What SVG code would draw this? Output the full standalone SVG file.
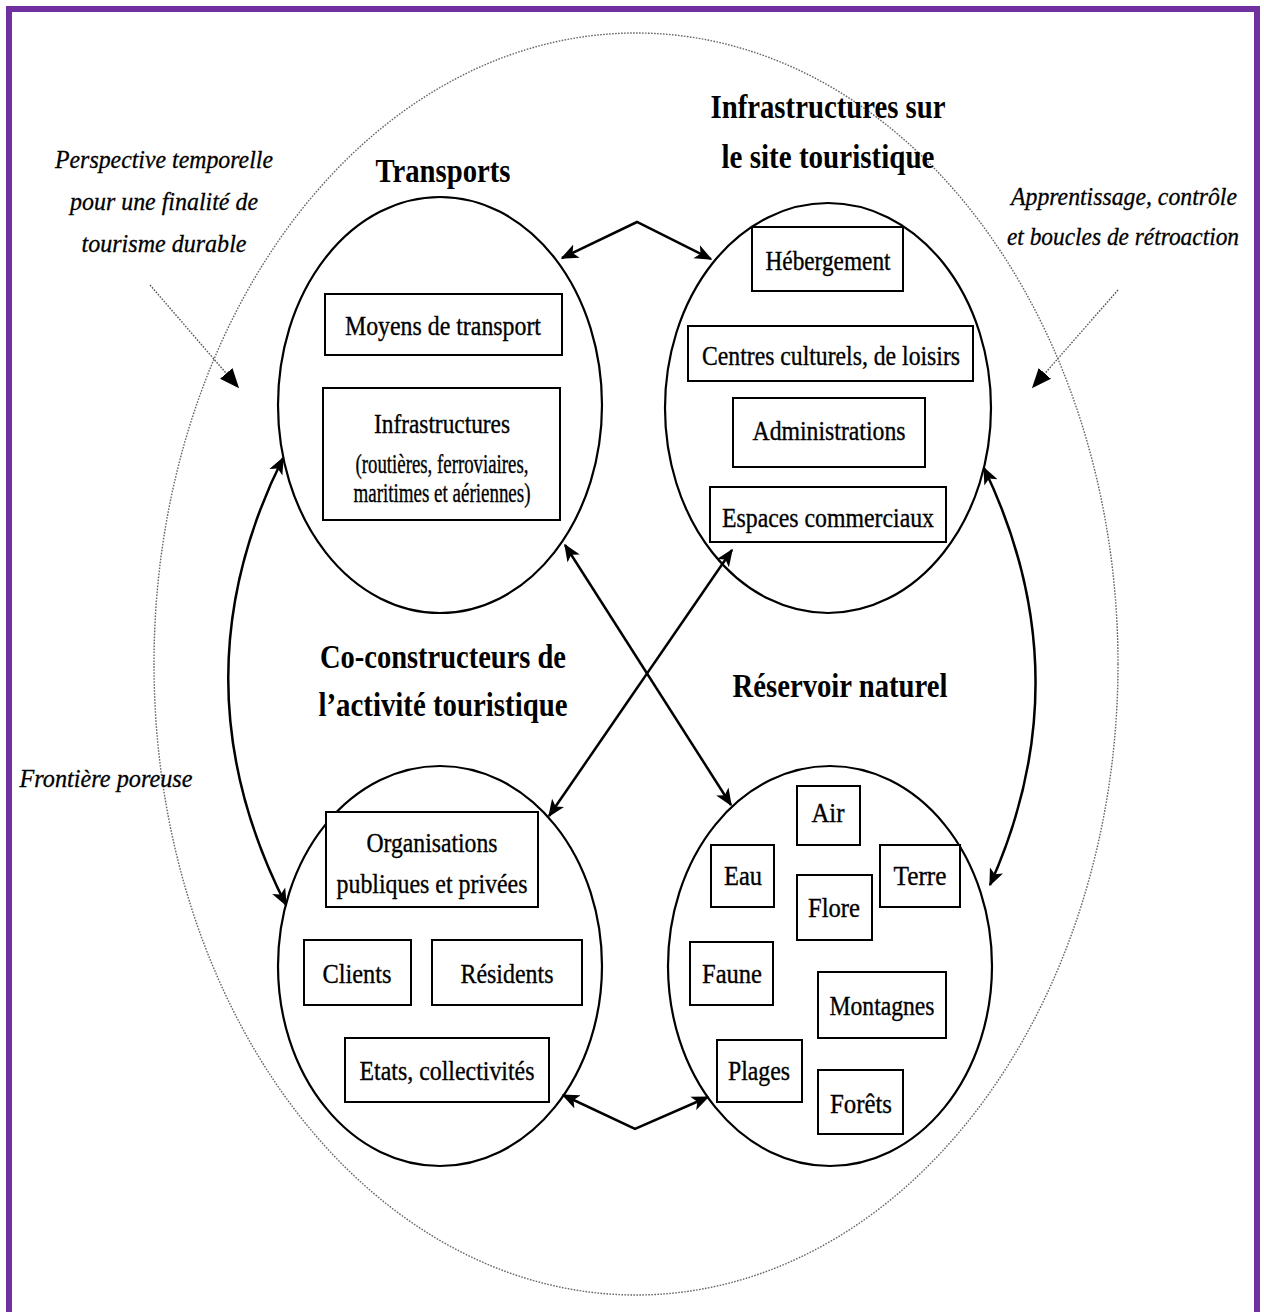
<svg xmlns="http://www.w3.org/2000/svg" width="1264" height="1312" viewBox="0 0 1264 1312">
  <defs>
    <marker id="head" viewBox="0 0 12 10" refX="11" refY="5" markerWidth="7" markerHeight="6" markerUnits="strokeWidth" orient="auto-start-reverse">
      <path d="M0,0 L12,5 L0,10 L3,5 Z" fill="#000"/>
    </marker>
    <marker id="headThin" viewBox="0 0 12 10" refX="11" refY="5" markerWidth="14" markerHeight="12" markerUnits="strokeWidth" orient="auto">
      <path d="M0,0 L12,5 L0,10 Z" fill="#000"/>
    </marker>
    <style>
      .frame { fill: none; stroke: #7030A0; stroke-width: 6; }
      .porous { fill: none; stroke: #666; stroke-width: 1.4; stroke-dasharray: 1.6 1.4; }
      .pole { fill: #fff; stroke: #000; stroke-width: 2.2; }
      .box { fill: #fff; stroke: #000; stroke-width: 2; }
      .link { fill: none; stroke: #000; stroke-width: 2.5; marker-start: url(#head); marker-end: url(#head); }
      .hint { fill: none; stroke: #555; stroke-width: 1.4; stroke-dasharray: 1.6 1.4; marker-end: url(#headThin); }
      text { font-family: "Liberation Serif", "Times New Roman", serif; fill: #000; text-anchor: middle; }
      .item { font-size: 27px; stroke: #000; stroke-width: 0.35; }
      .title { font-size: 33px; font-weight: bold; }
      .note { font-size: 26px; font-style: italic; stroke: #000; stroke-width: 0.3; }
    </style>
  </defs>

  <rect width="1264" height="1312" fill="#fff"/>
  <rect class="frame" x="9" y="9" width="1248" height="1330"/>

  <!-- porous outer boundary -->
  <ellipse id="boundary" class="porous" cx="636" cy="664" rx="482" ry="631"/>

  <!-- side notes -->
  <g id="note-left">
    <text class="note" x="164" y="168" textLength="218" lengthAdjust="spacingAndGlyphs">Perspective temporelle</text>
    <text class="note" x="164" y="210" textLength="188" lengthAdjust="spacingAndGlyphs">pour une finalité de</text>
    <text class="note" x="164" y="252" textLength="165" lengthAdjust="spacingAndGlyphs">tourisme durable</text>
  </g>
  <g id="note-right">
    <text class="note" x="1124" y="205" font-size="25" textLength="226" lengthAdjust="spacingAndGlyphs">Apprentissage, contrôle</text>
    <text class="note" x="1123" y="245" font-size="25" textLength="232" lengthAdjust="spacingAndGlyphs">et boucles de rétroaction</text>
  </g>
  <g id="note-boundary">
    <text class="note" x="106" y="787" textLength="173" lengthAdjust="spacingAndGlyphs">Frontière poreuse</text>
  </g>

  <!-- Transports -->
  <g id="transports">
    <text class="title" x="443" y="182" textLength="135" lengthAdjust="spacingAndGlyphs">Transports</text>
    <ellipse class="pole" cx="440" cy="405" rx="162" ry="208"/>
    <rect class="box" x="325" y="294" width="237" height="61"/>
    <text class="item" x="443" y="335" textLength="196" lengthAdjust="spacingAndGlyphs">Moyens de transport</text>
    <rect class="box" x="323" y="388" width="237" height="132"/>
    <text class="item" x="442" y="433" textLength="136" lengthAdjust="spacingAndGlyphs">Infrastructures</text>
    <text class="item" x="442" y="473" font-size="23" textLength="173" lengthAdjust="spacingAndGlyphs">(routières, ferroviaires,</text>
    <text class="item" x="442" y="502" font-size="23" textLength="177" lengthAdjust="spacingAndGlyphs">maritimes et aériennes)</text>
  </g>

  <!-- Infrastructures sur le site touristique -->
  <g id="infrastructures-site">
    <text class="title" x="828" y="118" textLength="235" lengthAdjust="spacingAndGlyphs">Infrastructures sur</text>
    <text class="title" x="828" y="168" textLength="213" lengthAdjust="spacingAndGlyphs">le site touristique</text>
    <ellipse class="pole" cx="828" cy="408" rx="163" ry="205"/>
    <rect class="box" x="752" y="227" width="151" height="64"/>
    <text class="item" x="828" y="270" textLength="125" lengthAdjust="spacingAndGlyphs">Hébergement</text>
    <rect class="box" x="688" y="326" width="285" height="55"/>
    <text class="item" x="831" y="365" textLength="258" lengthAdjust="spacingAndGlyphs">Centres culturels, de loisirs</text>
    <rect class="box" x="733" y="398" width="192" height="69"/>
    <text class="item" x="829" y="440" textLength="153" lengthAdjust="spacingAndGlyphs">Administrations</text>
    <rect class="box" x="710" y="487" width="236" height="55"/>
    <text class="item" x="828" y="527" textLength="212" lengthAdjust="spacingAndGlyphs">Espaces commerciaux</text>
  </g>

  <!-- Co-constructeurs de l'activité touristique -->
  <g id="co-constructeurs">
    <text class="title" x="443" y="668" textLength="246" lengthAdjust="spacingAndGlyphs">Co-constructeurs de</text>
    <text class="title" x="443" y="716" textLength="249" lengthAdjust="spacingAndGlyphs">l’activité touristique</text>
    <ellipse class="pole" cx="440" cy="966" rx="162" ry="200"/>
    <rect class="box" x="326" y="812" width="212" height="95"/>
    <text class="item" x="432" y="852" textLength="131" lengthAdjust="spacingAndGlyphs">Organisations</text>
    <text class="item" x="432" y="893" textLength="191" lengthAdjust="spacingAndGlyphs">publiques et privées</text>
    <rect class="box" x="304" y="940" width="107" height="65"/>
    <text class="item" x="357" y="983" textLength="69" lengthAdjust="spacingAndGlyphs">Clients</text>
    <rect class="box" x="432" y="940" width="150" height="65"/>
    <text class="item" x="507" y="983" textLength="93" lengthAdjust="spacingAndGlyphs">Résidents</text>
    <rect class="box" x="345" y="1038" width="204" height="64"/>
    <text class="item" x="447" y="1080" textLength="175" lengthAdjust="spacingAndGlyphs">Etats, collectivités</text>
  </g>

  <!-- Réservoir naturel -->
  <g id="reservoir-naturel">
    <text class="title" x="840" y="697" textLength="215" lengthAdjust="spacingAndGlyphs">Réservoir naturel</text>
    <ellipse class="pole" cx="830" cy="966" rx="162" ry="200"/>
    <rect class="box" x="797" y="786" width="63" height="59"/>
    <text class="item" x="828" y="822" textLength="33" lengthAdjust="spacingAndGlyphs">Air</text>
    <rect class="box" x="711" y="845" width="63" height="62"/>
    <text class="item" x="743" y="885" textLength="38" lengthAdjust="spacingAndGlyphs">Eau</text>
    <rect class="box" x="880" y="845" width="80" height="62"/>
    <text class="item" x="920" y="885" textLength="53" lengthAdjust="spacingAndGlyphs">Terre</text>
    <rect class="box" x="797" y="875" width="75" height="65"/>
    <text class="item" x="834" y="917" textLength="52" lengthAdjust="spacingAndGlyphs">Flore</text>
    <rect class="box" x="690" y="942" width="83" height="63"/>
    <text class="item" x="732" y="983" textLength="60" lengthAdjust="spacingAndGlyphs">Faune</text>
    <rect class="box" x="818" y="972" width="128" height="66"/>
    <text class="item" x="882" y="1015" textLength="105" lengthAdjust="spacingAndGlyphs">Montagnes</text>
    <rect class="box" x="717" y="1040" width="85" height="62"/>
    <text class="item" x="759" y="1080" textLength="62" lengthAdjust="spacingAndGlyphs">Plages</text>
    <rect class="box" x="818" y="1070" width="85" height="64"/>
    <text class="item" x="861" y="1113" textLength="62" lengthAdjust="spacingAndGlyphs">Forêts</text>
  </g>

  <!-- connectors -->
  <g id="connectors">
    <polyline class="link" points="562,258 637,222 711,259"/>
    <polyline class="link" points="563,1095 635,1129 708,1097"/>
    <line class="link" x1="565" y1="545" x2="731" y2="805"/>
    <line class="link" x1="732" y1="550" x2="549" y2="816"/>
    <path class="link" d="M283,458 Q172,681 286,905"/>
    <path class="link" d="M984,468 Q1084,676 990,885"/>
    <line class="hint" x1="150" y1="285" x2="238" y2="387"/>
    <line class="hint" x1="1118" y1="290" x2="1033" y2="387"/>
  </g>
</svg>
